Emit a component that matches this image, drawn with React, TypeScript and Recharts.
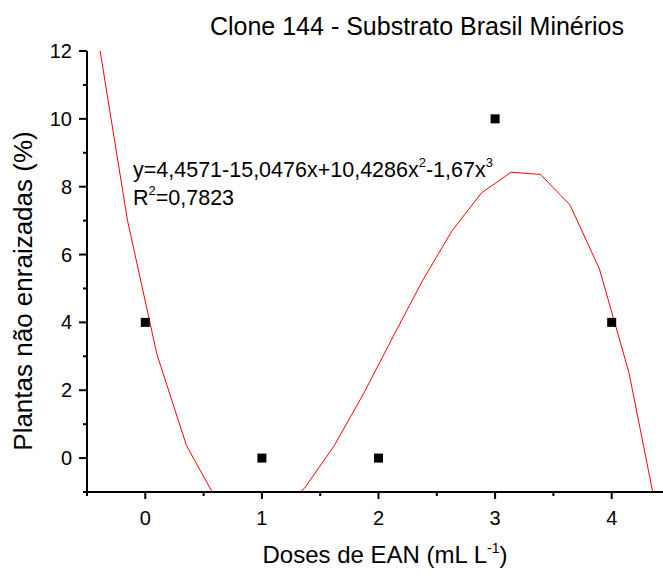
import React from 'react';
import { ComposedChart, Line, Scatter, XAxis, YAxis, Label } from 'recharts';

const curveX = [-0.406, -0.153, 0.1, 0.353, 0.606, 0.859, 1.112, 1.365, 1.618, 1.871, 2.124, 2.377, 2.63, 2.883, 3.136, 3.389, 3.642, 3.895, 4.148, 4.401];
const curveY = [12.397, 7.01, 3.055, 0.372, -1.203, -1.83, -1.672, -0.891, 0.352, 1.893, 3.573, 5.227, 6.696, 7.816, 8.425, 8.362, 7.466, 5.572, 2.52, -1.851];

const obsX = [0, 1, 2, 3, 4];
const obsY = [4, 0, 0, 10, 4];

const xTicks = [-0.5, 0, 0.5, 1, 1.5, 2, 2.5, 3, 3.5, 4];
const yTicks = [-1, 0, 1, 2, 3, 4, 5, 6, 7, 8, 9, 10, 11, 12];

const title = 'Clone 144 - Substrato Brasil Minérios';
const xLabel = 'Doses de EAN (mL L';
const yLabel = 'Plantas não enraizadas (%)';

const curveData = curveX.map((x, i) => ({ x, y: curveY[i] }));
const obsData = obsX.map((x, i) => ({ x, y: obsY[i] }));

const FONT = 'Liberation Sans, Arial, sans-serif';

const XTick = (props: any) => {
  const { x, y, payload } = props;
  const v = payload.value;
  const major = Number.isInteger(v);
  return (
    <g>
      <line x1={x} x2={x} y1={y} y2={y + (major ? 7 : 4)} stroke="#000" strokeWidth={2} />
      {major && (
        <text x={x} y={y + 33} textAnchor="middle" fontSize={20} fontFamily={FONT} fill="#000">
          {v}
        </text>
      )}
    </g>
  );
};

const YTick = (props: any) => {
  const { x, y, payload } = props;
  const v = payload.value;
  const major = v % 2 === 0;
  return (
    <g>
      <line x1={x} x2={x - (major ? 8 : 4)} y1={y} y2={y} stroke="#000" strokeWidth={2} />
      {major && (
        <text x={x - 15} y={y + 7} textAnchor="end" fontSize={20} fontFamily={FONT} fill="#000">
          {v}
        </text>
      )}
    </g>
  );
};

const SquareDot = (props: any) => {
  const { cx, cy } = props;
  return <rect x={cx - 4.5} y={cy - 4.5} width={9} height={9} fill="#000" />;
};

export default function App() {
  return (
    <div style={{ position: 'relative', width: 663, height: 575 }}>
      <style>{'body{margin:0;overflow:hidden}'}</style>
      <ComposedChart width={663} height={575} margin={{ top: 51, right: 0, left: 0, bottom: 0 }}>
        <XAxis
          type="number"
          dataKey="x"
          domain={[-0.5, 4.44]}
          allowDataOverflow
          ticks={xTicks}
          interval={0}
          tickSize={0}
          tickMargin={0}
          tickLine={false}
          height={83}
          axisLine={{ stroke: '#000', strokeWidth: 2 }}
          tick={<XTick />}
        >
          <Label
            content={(p: any) => {
              const vb = p.viewBox;
              return (
                <text x={vb.x + 298} y={vb.y + 71} textAnchor="middle" fontSize={24} fontFamily={FONT} fill="#000">
                  {xLabel}
                  <tspan fontSize={14} dy={-10}>-1</tspan>
                  <tspan dy={10}>)</tspan>
                </text>
              );
            }}
          />
        </XAxis>
        <YAxis
          type="number"
          dataKey="y"
          domain={[-1, 12]}
          allowDataOverflow
          ticks={yTicks}
          interval={0}
          width={87}
          tickSize={0}
          tickMargin={0}
          tickLine={false}
          axisLine={{ stroke: '#000', strokeWidth: 2 }}
          tick={<YTick />}
        >
          <Label
            content={() => (
              <text
                x={32}
                y={291}
                transform="rotate(-90 32 291)"
                textAnchor="middle"
                fontSize={26}
                fontFamily={FONT}
                fill="#000"
              >
                {yLabel}
              </text>
            )}
          />
        </YAxis>
        <Line
          data={curveData}
          dataKey="y"
          type="linear"
          stroke="#ff0000"
          strokeWidth={1}
          dot={false}
          activeDot={false}
          isAnimationActive={false}
        />
        <Scatter data={obsData} dataKey="y" fill="#000" shape={<SquareDot />} isAnimationActive={false} />
      </ComposedChart>
      <svg
        width={663}
        height={575}
        style={{ position: 'absolute', left: 0, top: 0, pointerEvents: 'none' }}
      >
        <text x={417} y={35} textAnchor="middle" fontSize={25} fontFamily={FONT} fill="#000">
          {title}
        </text>
        <text x={133} y={177} fontSize={21.5} fontFamily={FONT} fill="#000">
          y=4,4571-15,0476x+10,4286x
          <tspan fontSize={13} dy={-10}>2</tspan>
          <tspan dy={10}>-1,67x</tspan>
          <tspan fontSize={13} dy={-10}>3</tspan>
        </text>
        <text x={133} y={205} fontSize={21.5} fontFamily={FONT} fill="#000">
          R<tspan fontSize={13} dy={-10}>2</tspan>
          <tspan dy={10}>=0,7823</tspan>
        </text>
      </svg>
    </div>
  );
}
